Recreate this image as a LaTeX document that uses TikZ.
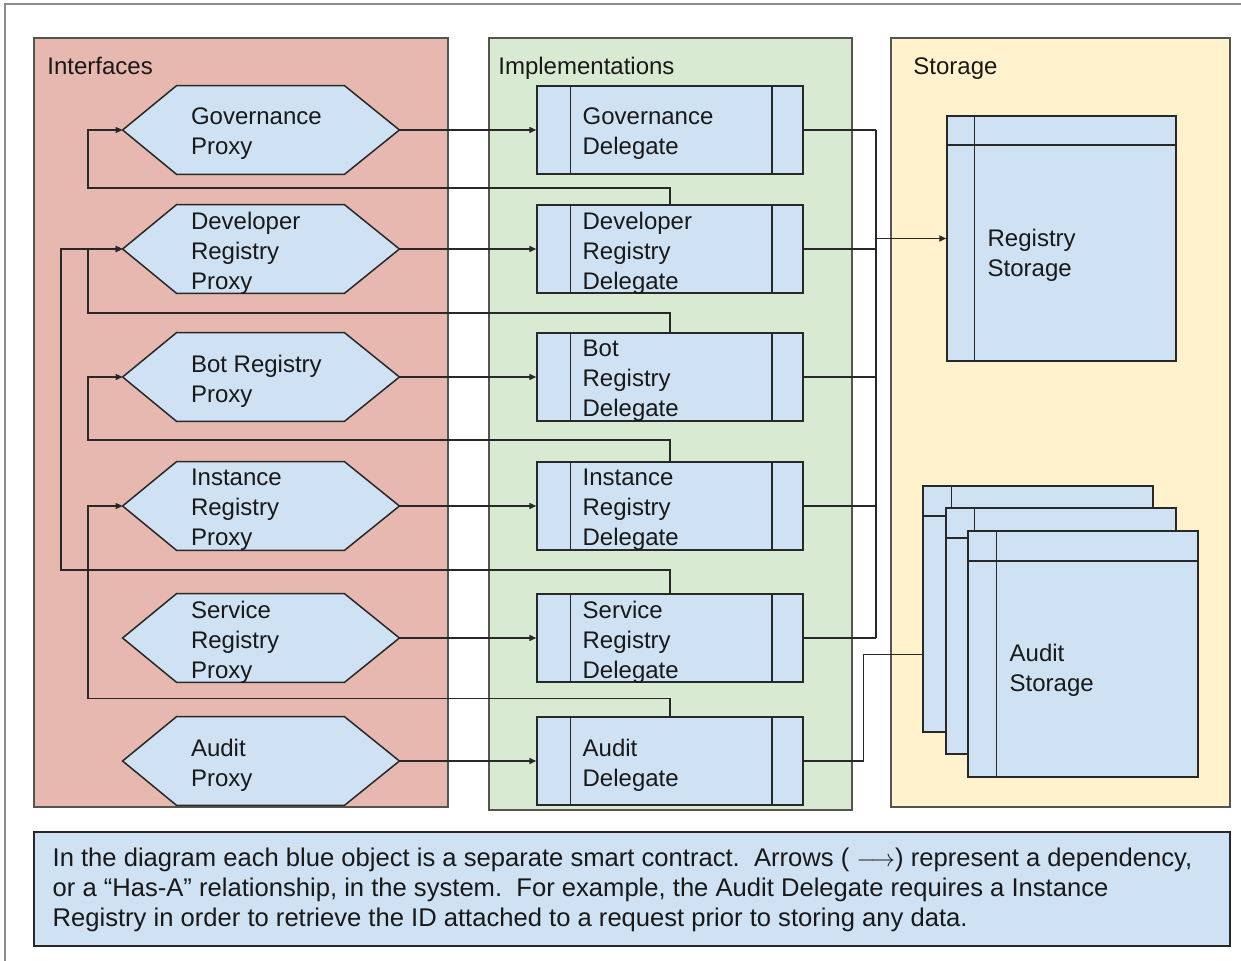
\documentclass[tikz,border=0pt]{standalone}
\usepackage{fontspec}
\setmainfont{Liberation Sans}
\usetikzlibrary{arrows.meta,calc,fit}

\definecolor{ifcfill}{RGB}{230,184,175}
\definecolor{implfill}{RGB}{217,234,211}
\definecolor{storfill}{RGB}{255,242,204}
\definecolor{objfill}{RGB}{207,226,243}
\definecolor{lineclr}{RGB}{40,40,40}
\definecolor{panelclr}{RGB}{85,85,80}
\definecolor{frameclr}{RGB}{140,140,140}
\definecolor{textclr}{RGB}{25,25,25}

\begin{document}
\begin{tikzpicture}[x=0.5pt,y=-0.5pt,
  txt/.style={font=\fontsize{12pt}{15pt}\selectfont, text=textclr, inner sep=0pt, align=left},
  notetxt/.style={txt, font=\fontsize{12.8pt}{15pt}\selectfont},
  panel/.style={draw=panelclr, line width=0.8pt, inner sep=0pt},
  slot/.style={inner sep=0pt},
  hexa/.style={fill=objfill, draw=lineclr, line width=0.75pt},
  obj/.style={draw=lineclr, fill=objfill, line width=0.75pt, inner sep=0pt},
  wire/.style={draw=lineclr, line width=0.75pt},
  dep/.style={wire, -{Triangle[length=3.5pt,width=3pt]}},
]
\useasboundingbox (0,0) rectangle (1241,961);

% page frame
\draw[frameclr, line width=0.6pt] (5,961) -- (5,4) -- (1241,4);

% the three columns
\node[panel, fill=ifcfill,  fit={(34,38) (448,807)}]  (ifc)  {};
\node[panel, fill=implfill, fit={(489,38) (852,810)}] (impl) {};
\node[panel, fill=storfill, fit={(891,38) (1230,807)}] (stor) {};
\node[txt, anchor=base west] (ifc-t)  at (47,75)  {Interfaces};
\node[txt, anchor=base west] (impl-t) at (498,75) {Implementations};
\node[txt, anchor=base west] (stor-t) at (913,75) {Storage};

% proxies (hexagons)
\foreach \n/\ya/\yb/\lab in {
  gp/86/174/{Governance\\Proxy},
  dp/205/293/{Developer\\Registry\\Proxy},
  bp/333/421/{Bot Registry\\Proxy},
  ip/462/550/{Instance\\Registry\\Proxy},
  sp/594/682/{Service\\Registry\\Proxy},
  ap/717/805/{Audit\\Proxy}}{
  \node[slot, fit={(123,\ya) (399,\yb)}] (\n) {};
  \filldraw[hexa] (\n.west) -- ($(\n.north west)+(54,0)$) -- ($(\n.north east)+(-55,0)$)
    -- (\n.east) -- ($(\n.south east)+(-55,0)$) -- ($(\n.south west)+(54,0)$) -- cycle;
  \node[txt, anchor=west] (\n-t) at ($(\n.west)+(68,4)$) {\lab};
}

% delegates
\foreach \n/\ya/\yb/\lab in {
  gd/86/174/{Governance\\Delegate},
  dd/205/293/{Developer\\Registry\\Delegate},
  bd/333/421/{Bot\\Registry\\Delegate},
  id/462/550/{Instance\\Registry\\Delegate},
  sd/594/682/{Service\\Registry\\Delegate},
  ad/717/805/{Audit\\Delegate}}{
  \node[obj, fit={(537,\ya) (803,\yb)}] (\n) {};
  \draw[wire] ($(\n.north west)+(34,0)$) -- ($(\n.south west)+(34,0)$);
  \draw[wire] ($(\n.north east)+(-32,0)$) -- ($(\n.south east)+(-32,0)$);
  \node[txt, anchor=west] (\n-t) at ($(\n.west)+(46,4)$) {\lab};
}

% registry storage
\node[obj, fit={(947,116) (1176,361)}] (rs) {};
\draw[wire] ($(rs.north west)+(28,0)$) -- ($(rs.south west)+(28,0)$);
\draw[wire] ($(rs.north west)+(0,30)$) -- ($(rs.north east)+(0,30)$);
\node[txt, anchor=west] (rs-t) at ($(rs.north west)+(41,140)$) {Registry\\Storage};

% audit storage (stacked sheets)
\foreach \n/\xa/\ya in {as1/923/486, as2/946/508, as3/968/531}{
  \node[obj, fit={(\xa,\ya) ($(\xa,\ya)+(230,246)$)}] (\n) {};
  \draw[wire] ($(\n.north west)+(29,0)$) -- ($(\n.south west)+(29,0)$);
  \draw[wire] ($(\n.north west)+(0,31)$) -- ($(\n.north east)+(0,31)$);
}
\node[txt, anchor=west] (as-t) at ($(as3.north west)+(42,140)$) {Audit\\Storage};

% proxy -> delegate
\foreach \p/\d in {gp/gd, dp/dd, bp/bd, ip/id, sp/sd, ap/ad}
  \draw[dep] (\p.east) -- (\d.west);

% delegate -> proxy feedback lanes
\coordinate (laneA) at (88,0);
\coordinate (laneB) at (61,0);
\draw[dep] (dd.north) -- ++(0,-16) -| (laneA |- gp.west) -- (gp.west);
\draw[dep] (bd.north) -- ++(0,-19) -| (laneA |- dp.west) -- (dp.west);
\draw[dep] (id.north) -- ++(0,-21) -| (laneA |- bp.west) -- (bp.west);
\draw[dep] (sd.north) -- ++(0,-23) -| (laneB |- dp.west) -- (dp.west);
\draw[dep] (ad.north) -- ++(0,-18) -| (laneA |- ip.west) -- (ip.west);

% delegates -> registry storage bus
\coordinate (bus) at (876,0);
\foreach \d in {gd,dd,bd,id,sd}
  \draw[wire] (\d.east) -- (bus |- \d.east);
\draw[wire] (bus |- gd.east) -- (bus |- sd.east);
\draw[dep, line width=0.9pt] (bus |- rs.west) -- (rs.west);

% audit delegate -> audit storage
\coordinate (asin) at ($(as1.north west)+(0,169)$);
\draw[wire] (ad.east) -| ($(asin)+(-59,0)$) -- (asin);

% note
\node[obj, fit={(34,832) (1230,946)}] (note) {};
\node[notetxt, anchor=west] (note-t) at ($(note.west)+(19,1)$) {In the diagram each blue object is a separate smart contract.\ \ Arrows ( $\longrightarrow$) represent a dependency,\\or a “Has-A” relationship, in the system.\ \ For example, the Audit Delegate requires a Instance\\Registry in order to retrieve the ID attached to a request prior to storing any data.};
\end{tikzpicture}
\end{document}
